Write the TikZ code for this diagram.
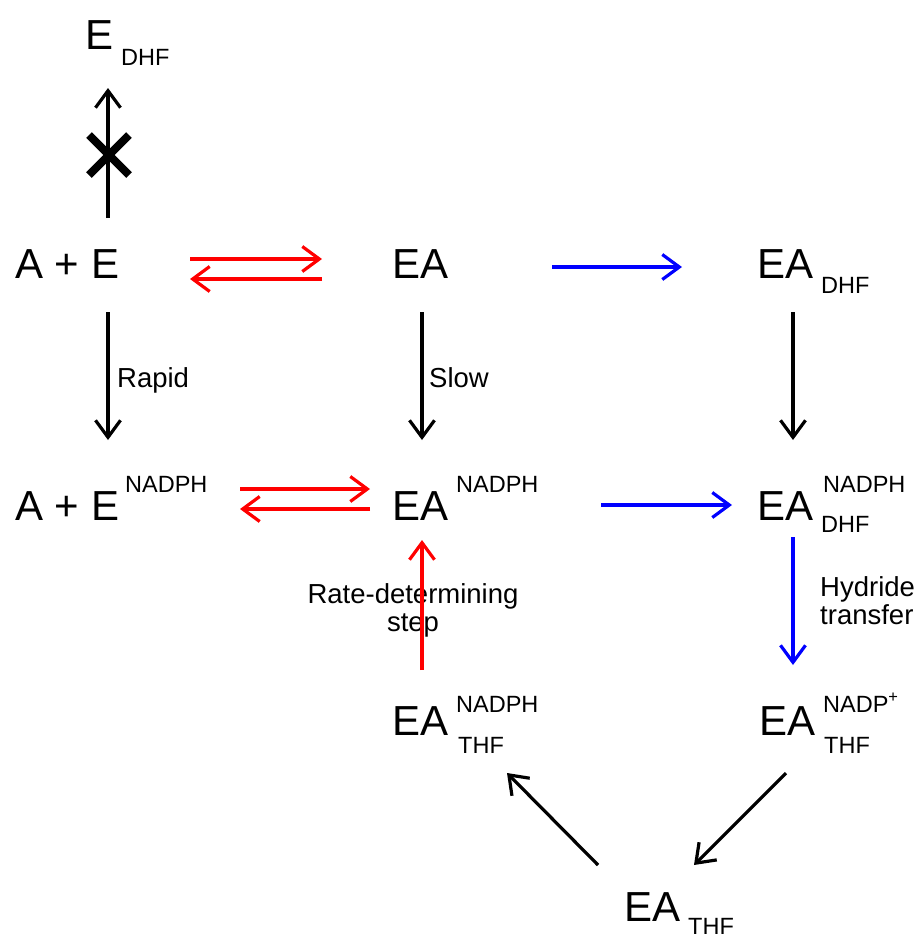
\documentclass[tikz,border=0pt]{standalone}
\usepackage{fontspec}
\setmainfont{Liberation Sans}
\usetikzlibrary{arrows.meta}
\begin{document}
\begin{tikzpicture}[x=1pt,y=-1pt,
  big/.style={inner sep=0pt, anchor=base west, font=\fontsize{42}{42}\selectfont},
  small/.style={inner sep=0pt, anchor=base west, font=\fontsize{23.5}{23.5}\selectfont},
  lab/.style={inner sep=0pt, font=\fontsize{27.5}{28}\selectfont},
  rxn/.style={line width=3.2pt, -{Straight Barb[length=17pt,width=25pt]}},
  fwd/.style={rxn, red},
  cat/.style={rxn, blue},
  blk/.style={rxn, black}]
\useasboundingbox (0,0) rectangle (921,938);

% species
\node[big] (Edhf) at (85,49) {E};
\node[small] (Edhfs) at (121,65) {DHF};

\node[big] (AE) at (15,278) {A + E};
\node[big] (EA) at (392,278) {EA};
\node[big] (EAd) at (757,278) {EA};
\node[small] (EAds) at (821,293) {DHF};

\node[big] (AEN) at (15,520) {A + E};
\node[small] (AENs) at (125,492) {NADPH};
\node[big] (EAN) at (392,520) {EA};
\node[small] (EANs) at (456,492) {NADPH};
\node[big] (EAND) at (757,520) {EA};
\node[small] (EANDs) at (823,492) {NADPH};
\node[small] (EANDb) at (821,532) {DHF};

\node[big] (EANT) at (392,735) {EA};
\node[small] (EANTs) at (456,712) {NADPH};
\node[small] (EANTb) at (458,753) {THF};
\node[big] (EAPT) at (759,735) {EA};
\node[small] (EAPTs) at (823,712) {NADP\textsuperscript{+}};
\node[small] (EAPTb) at (824,753) {THF};

\node[big] (EAT) at (624,921) {EA};
\node[small] (EATs) at (688,934) {THF};

% labels
\node[lab, anchor=base west] (rapid) at (117,387) {Rapid};
\node[lab, anchor=base west] (slow) at (429,387) {Slow};
\node[lab, anchor=north, align=center] (rds) at (413,583) {Rate-determining\\step};
\node[lab, anchor=north west, align=left] (hyd) at (820,576) {Hydride\\transfer};

% connector end points
\coordinate (c1a) at (108,218); \coordinate (c1b) at (108,88);
\coordinate (r1a) at (190,259); \coordinate (r1b) at (322,259);
\coordinate (r1c) at (322,279); \coordinate (r1d) at (190,279);
\coordinate (b1a) at (552,267); \coordinate (b1b) at (682,267);
\coordinate (v1a) at (108,312); \coordinate (v1b) at (108,440);
\coordinate (v2a) at (422,312); \coordinate (v2b) at (422,440);
\coordinate (v3a) at (793,312); \coordinate (v3b) at (793,440);
\coordinate (r2a) at (240,489); \coordinate (r2b) at (370,489);
\coordinate (r2c) at (370,509); \coordinate (r2d) at (240,509);
\coordinate (b2a) at (601,505); \coordinate (b2b) at (732,505);
\coordinate (b3a) at (793,537); \coordinate (b3b) at (793,665);
\coordinate (r3a) at (422,670); \coordinate (r3b) at (422,540);
\coordinate (d1a) at (598,865); \coordinate (d1b) at (507,773);
\coordinate (d2a) at (786,773); \coordinate (d2b) at (694,865);
\coordinate (x0) at (109,155);

% connectors
\draw[blk] (c1a) -- (c1b);
\draw[line width=8pt] ([shift={(-20,-20)}]x0) -- ([shift={(20,20)}]x0);
\draw[line width=8pt] ([shift={(-20,20)}]x0) -- ([shift={(20,-20)}]x0);

\draw[fwd] (r1a) -- (r1b);
\draw[fwd] (r1c) -- (r1d);
\draw[cat] (b1a) -- (b1b);
\draw[blk] (v1a) -- (v1b);
\draw[blk] (v2a) -- (v2b);
\draw[blk] (v3a) -- (v3b);
\draw[fwd] (r2a) -- (r2b);
\draw[fwd] (r2c) -- (r2d);
\draw[cat] (b2a) -- (b2b);
\draw[cat] (b3a) -- (b3b);
\draw[fwd] (r3a) -- (r3b);
\draw[blk] (d1a) -- (d1b);
\draw[blk] (d2a) -- (d2b);
\end{tikzpicture}
\end{document}
